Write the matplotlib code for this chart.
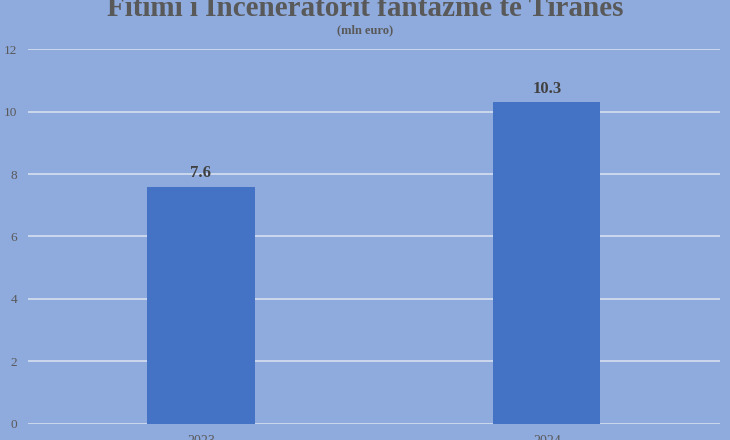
import matplotlib
matplotlib.use("Agg")
import matplotlib.pyplot as plt

# data
years = ["2023", "2024"]
profit = [7.6, 10.3]
yticks = [0, 2, 4, 6, 8, 10, 12]

BG = "#8FAADC"
BAR = "#4472C4"
GREY = "#595959"

plt.rcParams['font.family'] = ['Liberation Serif', 'DejaVu Serif']

fig = plt.figure(figsize=(7.3, 4.4), dpi=100, facecolor=BG)
ax = fig.add_axes([0.0384, 0.0364, 0.9476, 0.8522], facecolor=BG)

bars = ax.bar(years, profit, width=0.31, color=BAR, zorder=3)
for b, v in zip(bars, profit):
    ax.text(b.get_x() + b.get_width() / 2, v + 0.17, f"{v}", ha="center", va="bottom",
            fontsize=12, fontweight="bold", color="#404040")

ax.set_ylim(0, 12)
ax.set_xlim(-0.5, 1.5)
ax.set_yticks(yticks)
ax.yaxis.grid(True, color="#D6DFF0", linewidth=1.2, zorder=0)
ax.tick_params(axis="both", length=0, colors=GREY, labelsize=9.5)
ax.tick_params(axis="y", pad=8)
ax.tick_params(axis="x", pad=8, labelsize=10)
for s in ax.spines.values():
    s.set_visible(False)

fig.text(0.5, 1.0 - 16 / 440, "Fitimi i Inceneratorit fantazmë të Tiranës", ha="center", va="baseline",
         fontsize=21, fontweight="bold", color=GREY)
fig.text(0.5, 1.0 - 33 / 440, "(mln euro)", ha="center", va="baseline",
         fontsize=9, fontweight="bold", color=GREY)

fig.savefig("out.png", dpi=100, facecolor=BG)
